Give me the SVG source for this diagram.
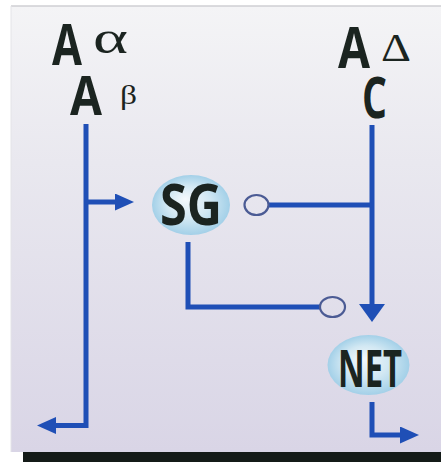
<svg xmlns="http://www.w3.org/2000/svg" width="441" height="462" viewBox="0 0 441 462">
<defs>
<linearGradient id="bg" x1="0" y1="0" x2="0" y2="1">
<stop offset="0" stop-color="#f4f4f6"/>
<stop offset="0.35" stop-color="#e9e8ef"/>
<stop offset="1" stop-color="#d9d5e6"/>
</linearGradient>
<radialGradient id="node" cx="0.5" cy="0.5" r="0.5" fx="0.42" fy="0.4">
<stop offset="0" stop-color="#f4f9fc"/>
<stop offset="0.55" stop-color="#d2e8f3"/>
<stop offset="1" stop-color="#a3d0e8"/>
</radialGradient>
<marker id="ah" markerUnits="userSpaceOnUse" markerWidth="20" markerHeight="17" viewBox="0 0 19 17" refX="1" refY="8.5" orient="auto">
<path d="M0,0 L19,8.5 L0,17 z" fill="#1f4fb6"/>
</marker>
<marker id="ahBig" markerUnits="userSpaceOnUse" markerWidth="19" markerHeight="26" viewBox="0 0 18 26" refX="1" refY="13" orient="auto">
<path d="M0,0 L18,13 L0,26 z" fill="#1f4fb6"/>
</marker>
<style>
.line{fill:none;stroke:#1f4fb6;stroke-width:5;stroke-linejoin:miter}
.ring{fill:none;stroke:#4b5b94;stroke-width:2.2}
.big{font-family:"Open Sans","Liberation Sans",sans-serif;font-weight:700;fill:#1b2420}
.greek{font-family:"Liberation Serif","DejaVu Serif",serif;fill:#1b2420}
.nodebg{fill:url(#node)}
</style>
</defs>
<rect x="0" y="0" width="441" height="462" fill="#ffffff"/>
<rect x="11" y="6" width="430" height="446" fill="url(#bg)"/>
<line x1="11" y1="6" x2="441" y2="6" stroke="#cfcfd3" stroke-width="1.5"/>
<line x1="11" y1="6" x2="11" y2="452" stroke="#e4e4e8" stroke-width="1"/>
<rect x="23" y="452" width="418" height="10" fill="#141b18"/>

<g id="labels">
<text class="big" x="52" y="65" font-size="58" textLength="30" lengthAdjust="spacingAndGlyphs">A</text>
<text class="greek" x="93" y="53" font-size="46" textLength="35" lengthAdjust="spacingAndGlyphs">α</text>
<text class="big" x="70" y="115" font-size="53" textLength="32" lengthAdjust="spacingAndGlyphs">A</text>
<text class="greek" x="120" y="104" font-size="28" textLength="17" lengthAdjust="spacingAndGlyphs">β</text>
<text class="big" x="338" y="68" font-size="58" textLength="32" lengthAdjust="spacingAndGlyphs">A</text>
<text class="greek" x="381" y="61" font-size="40" textLength="30" lengthAdjust="spacingAndGlyphs">Δ</text>
<text class="big" x="362" y="118" font-size="58" textLength="25" lengthAdjust="spacingAndGlyphs">C</text>
</g>

<g id="connectors">
<path class="line" d="M86,124 V425.5 H55" marker-end="url(#ah)"/>
<path class="line" d="M86,202 H116" marker-end="url(#ah)"/>
<path class="line" d="M372,125 V305" marker-end="url(#ahBig)"/>
<path class="line" d="M269,205 H372"/>
<path class="line" d="M188,242 V307 H320"/>
<path class="line" d="M372,402 V435 H401" marker-end="url(#ah)"/>
<ellipse class="ring" cx="256.5" cy="205" rx="12" ry="10"/>
<ellipse class="ring" cx="332.5" cy="307" rx="12.5" ry="10"/>
</g>

<g id="SG">
<ellipse class="nodebg" cx="191" cy="205" rx="39" ry="30"/>
<text class="big" x="191" y="225" font-size="58" text-anchor="middle" textLength="62" lengthAdjust="spacingAndGlyphs">SG</text>
</g>

<g id="NET">
<ellipse class="nodebg" cx="368.5" cy="365" rx="41" ry="30"/>
<text class="big" x="370" y="387" font-size="52" text-anchor="middle" textLength="64" lengthAdjust="spacingAndGlyphs">NET</text>
</g>
</svg>
